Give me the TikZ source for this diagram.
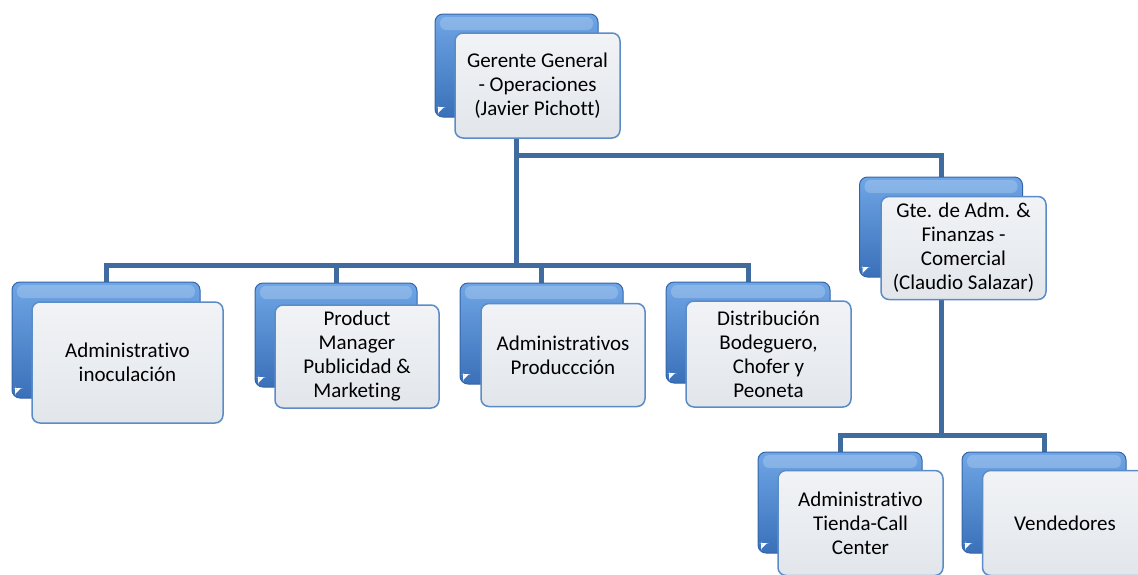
\documentclass[tikz,border=0pt]{standalone}
\usepackage{fontspec}
\setmainfont[Ligatures=NoCommon]{Carlito}
\usetikzlibrary{positioning,backgrounds}

\definecolor{linkblue}{HTML}{3F6B9E}
\definecolor{backtop}{HTML}{6FA6E6}
\definecolor{backbot}{HTML}{3A70B8}
\definecolor{backline}{HTML}{3565A8}
\definecolor{fronttop}{HTML}{F1F3F6}
\definecolor{frontbot}{HTML}{E2E6EB}
\definecolor{frontline}{HTML}{5B8CC8}

\begin{document}
\begin{tikzpicture}[x=1pt,y=-1pt,
  backbox/.style={rounded corners=8pt,minimum width=163pt,minimum height=103pt,
    top color=backtop,bottom color=backbot,draw=backline,line width=1pt,
    path picture={
      \fill[white,opacity=0.2,rounded corners=6pt]
        ([shift={(5pt,-3pt)}]path picture bounding box.north west) rectangle
        ([shift={(-5pt,-16pt)}]path picture bounding box.north east);
      \fill[white]
        ([shift={(3pt,4pt)}]path picture bounding box.south west) --
        ([shift={(3pt,10pt)}]path picture bounding box.south west) --
        ([shift={(9pt,10pt)}]path picture bounding box.south west) -- cycle;}},
  frontbox/.style={rounded corners=8pt,minimum width=165pt,minimum height=105pt,
    top color=fronttop,bottom color=frontbot,draw=frontline,line width=1.5pt,
    align=center,inner sep=2pt,font=\fontsize{21}{24}\selectfont},
  link/.style={draw=linkblue,line width=5pt}]

\useasboundingbox (0,0) rectangle (1138,574);

% levels of the horizontal bars
\coordinate (bus1) at (0,155);
\coordinate (bus2) at (0,265);
\coordinate (bus3) at (0,435);

% back boxes
\node[backbox] (ggb) at (516.5,65.5) {};
\node[backbox,minimum height=100pt] (gteb) at (941,227) {};
\node[backbox,minimum width=188pt,minimum height=116pt] (admb) at (106,340) {};
\node[backbox,minimum width=162pt,minimum height=104pt] (prodb) at (336,335) {};
\node[backbox,minimum height=101pt] (admpb) at (541.5,333.5) {};
\node[backbox,minimum width=164pt,minimum height=101pt] (distb) at (748,332.5) {};
\node[backbox,minimum width=164pt,minimum height=101pt] (tiendab) at (840,502.5) {};
\node[backbox,minimum width=164pt,minimum height=101pt] (vendb) at (1044,502.5) {};

% front boxes
\node[frontbox] (gg) at ([shift={(21pt,-20pt)}]ggb.center)
  {Gerente General\\- Operaciones\\(Javier Pichott)};
\node[frontbox,minimum height=103pt] (gte) at ([shift={(22.5pt,-21pt)}]gteb.center)
  {Gte. de Adm. \&\\Finanzas -\\Comercial\\(Claudio Salazar)};
\node[frontbox,minimum width=191pt,minimum height=121pt] (adm) at ([shift={(21.5pt,-22.5pt)}]admb.center)
  {Administrativo\\inoculación};
\node[frontbox,minimum width=164pt,minimum height=103pt] (prod) at ([shift={(21pt,-21.5pt)}]prodb.center)
  {Product\\Manager\\Publicidad \&\\Marketing};
\node[frontbox,minimum width=164pt,minimum height=103pt] (admp) at ([shift={(21.5pt,-21.5pt)}]admpb.center)
  {Administrativos\\Produccción};
\node[frontbox,minimum height=106pt] (dist) at ([shift={(20.5pt,-21.5pt)}]distb.center)
  {Distribución\\Bodeguero,\\Chofer y\\Peoneta};
\node[frontbox] (tienda) at ([shift={(20.5pt,-20.5pt)}]tiendab.center)
  {Administrativo\\Tienda-Call\\Center};
\node[frontbox] (vend) at ([shift={(21pt,-20.5pt)}]vendb.center)
  {Vendedores};

% connectors
\begin{scope}[on background layer]
\draw[link] (ggb.center) -- (ggb.center |- bus1) -| (gteb.center);
\foreach \n in {admb,prodb,admpb,distb}
  \draw[link] (ggb.center) -- (ggb.center |- bus2) -| (\n.center);
\foreach \n in {tiendab,vendb}
  \draw[link] (gteb.center) -- (gteb.center |- bus3) -| (\n.center);
\end{scope}

\end{tikzpicture}
\end{document}
